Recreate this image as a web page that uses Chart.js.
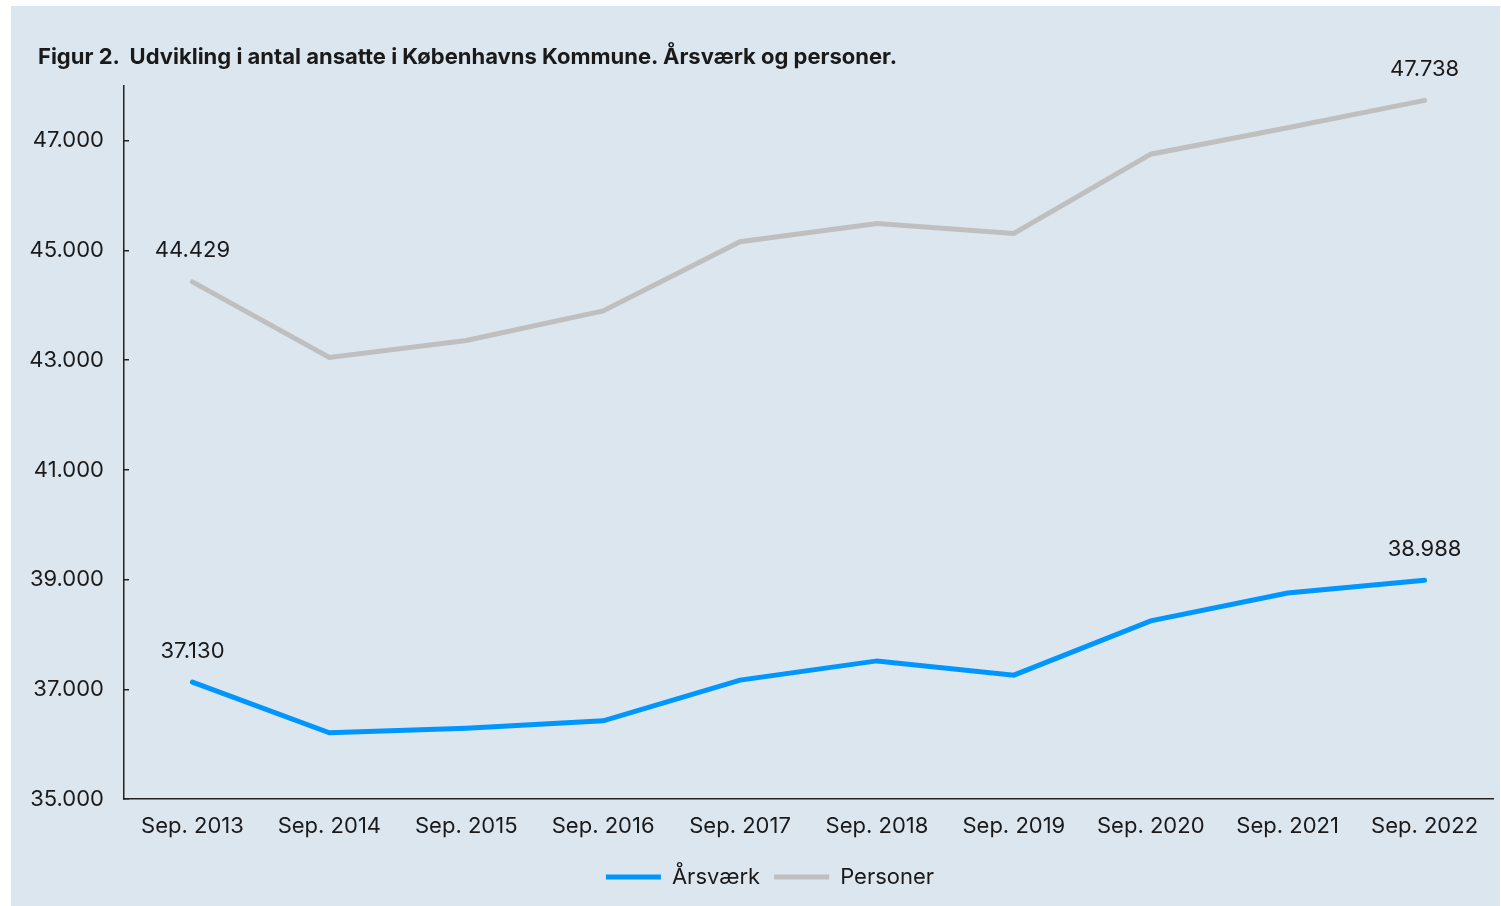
<!DOCTYPE html>
<html>
<head>
<meta charset="utf-8">
<script src="https://cdn.jsdelivr.net/npm/chart.js@4/dist/chart.umd.min.js"></script>
<style>
  html, body { margin: 0; padding: 0; background: #fff; }
  #box { position: absolute; left: 11px; top: 6px; width: 1489px; height: 900px; background: #dce6ef; }
  #title { position: absolute; left: 27px; top: 37px; font: bold 22px Inter, "Noto Sans", sans-serif; color: #1a1a1a; white-space: pre; line-height: 26px; }
  canvas { position: absolute; left: 0; top: 0; }
</style>
</head>
<body>
<div id="box">
  <canvas id="myChart" width="1489" height="900"></canvas>
  <div id="title">Figur 2.  Udvikling i antal ansatte i Københavns Kommune. Årsværk og personer.</div>
</div>
<script>
var labels = ['Sep. 2013', 'Sep. 2014', 'Sep. 2015', 'Sep. 2016', 'Sep. 2017',
  'Sep. 2018', 'Sep. 2019', 'Sep. 2020', 'Sep. 2021', 'Sep. 2022'];
var aarsvaerk = [37130, 36207, 36290, 36426, 37167, 37518, 37258, 38247, 38757, 38988];
var personer = [44429, 43050, 43360, 43900, 45160, 45494, 45311, 46757, 47240, 47738];
var yTicks = [35000, 37000, 39000, 41000, 43000, 45000, 47000];

var FONT = 'Inter, "Noto Sans", sans-serif';
var INK = '#1a1a1a';

function fmt(n) {
  return String(n).replace(/\B(?=(\d{3})+(?!\d))/g, '.');
}

// value labels on first and last point
var endLabels = {
  id: 'endLabels',
  afterDatasetsDraw: function(chart) {
    var c = chart.ctx;
    c.save();
    c.font = '22px ' + FONT;
    c.fillStyle = INK;
    c.textAlign = 'center';
    c.textBaseline = 'middle';
    chart.data.datasets.forEach(function(ds, i) {
      var pts = chart.getDatasetMeta(i).data;
      [0, pts.length - 1].forEach(function(k) {
        c.fillText(fmt(ds.data[k]), pts[k].x, pts[k].y - 31);
      });
    });
    c.restore();
  }
};

// nudge the legend a bit to the right
var legendShift = {
  id: 'legendShift',
  afterLayout: function(chart) {
    chart.legend.left += 18;
    chart.legend.right += 18;
  }
};

var ctx = document.getElementById('myChart');
var chart = new Chart(ctx, {
  type: 'line',
  data: {
    labels: labels,
    datasets: [{
      label: 'Årsværk',
      data: aarsvaerk,
      borderColor: '#0096ff',
      backgroundColor: '#0096ff',
      borderWidth: 5,
      borderCapStyle: 'round',
      pointRadius: 0
    }, {
      label: 'Personer',
      data: personer,
      borderColor: '#bfbfbf',
      backgroundColor: '#bfbfbf',
      borderWidth: 5,
      borderCapStyle: 'round',
      pointRadius: 0
    }]
  },
  options: {
    responsive: false,
    animation: false,
    layout: { padding: { left: 0, right: 7, top: 80, bottom: 8 } },
    plugins: {
      legend: {
        position: 'bottom',
        labels: {
          usePointStyle: true,
          pointStyle: 'line',
          pointStyleWidth: 55,
          color: INK,
          font: { family: FONT, size: 22 },
          padding: 14
        }
      },
      tooltip: { enabled: false }
    },
    scales: {
      x: {
        offset: true,
        grid: { display: false, drawTicks: false },
        border: { display: true, color: '#222', width: 1.5 },
        ticks: { color: INK, font: { family: FONT, size: 22 }, padding: 14, maxRotation: 0 },
        afterFit: function(s) { s.height = 53; }
      },
      y: {
        min: 35000,
        max: 48000,
        grid: { drawOnChartArea: false, drawTicks: true, tickLength: -5, color: '#222', lineWidth: 1.5 },
        border: { display: true, color: '#222', width: 1.5 },
        ticks: {
          stepSize: 2000,
          color: INK,
          font: { family: FONT, size: 22 },
          padding: 25,
          callback: function(v) { return fmt(v); }
        },
        afterBuildTicks: function(s) {
          s.ticks = yTicks.map(function(v) { return { value: v }; });
        },
        afterFit: function(s) { s.width = 113; }
      }
    }
  },
  plugins: [endLabels, legendShift]
});
</script>
</body>
</html>
